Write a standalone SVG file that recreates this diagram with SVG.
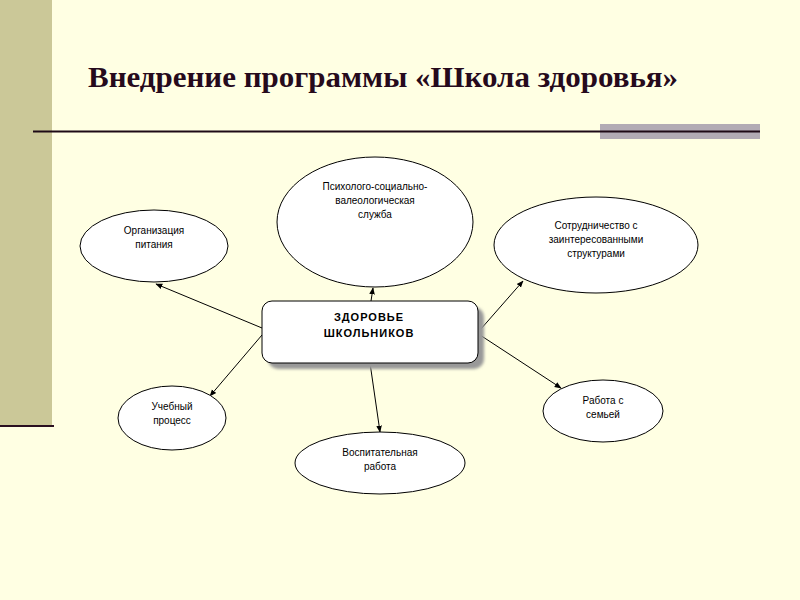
<svg xmlns="http://www.w3.org/2000/svg" width="800" height="600" viewBox="0 0 800 600">
<defs>
<marker id="ah" viewBox="0 0 10 10" refX="9" refY="5" markerWidth="7" markerHeight="7" orient="auto" markerUnits="userSpaceOnUse">
<path d="M0,1 L10,5 L0,9 z" fill="#000"/>
</marker>
<filter id="sh" x="-10%" y="-10%" width="130%" height="140%">
<feGaussianBlur stdDeviation="1.5"/>
</filter>
</defs>
<style>
.el{fill:#fff;stroke:#000;stroke-width:1}
.t{font-family:"Liberation Sans",Arial,sans-serif;font-size:10px;fill:#000;text-anchor:middle}
.tb{font-family:"Liberation Sans",Arial,sans-serif;font-size:11px;font-weight:bold;fill:#000;text-anchor:middle;letter-spacing:1px}
.c line{stroke:#000;stroke-width:1;marker-end:url(#ah)}
</style>
<rect width="800" height="600" fill="#FFFFE3"/>
<rect x="0" y="0" width="52" height="425" fill="#CBC898"/>
<line x1="0" y1="426" x2="54" y2="426" stroke="#2a1020" stroke-width="2"/>
<rect x="600" y="124" width="160" height="15" fill="#B2ABB4"/>
<line x1="33" y1="131.500" x2="760" y2="131.500" stroke="#1e0a16" stroke-width="2"/>
<text x="88" y="87" font-family="Liberation Serif,'Times New Roman',serif" font-size="30" font-weight="bold" fill="#260a1c" textLength="590" lengthAdjust="spacingAndGlyphs">Внедрение программы «Школа здоровья»</text>

<g class="c">
<line x1="371" y1="301" x2="373" y2="288"/>
<line x1="262" y1="328" x2="156" y2="284"/>
<line x1="262" y1="335" x2="210" y2="396"/>
<line x1="370" y1="363" x2="380" y2="432"/>
<line x1="480" y1="330" x2="523" y2="281"/>
<line x1="480" y1="335" x2="561" y2="388"/>
</g>

<g id="center">
<rect x="268" y="307" width="216" height="62" rx="10" fill="#999" filter="url(#sh)"/>
<rect x="262" y="301" width="216" height="62" rx="10" class="el"/>
<text x="369" y="321" class="tb">ЗДОРОВЬЕ</text>
<text x="369" y="337" class="tb">ШКОЛЬНИКОВ</text>
</g>
<g id="psych">
<ellipse cx="375" cy="222" rx="98" ry="65" class="el"/>
<text x="375" y="190" class="t">Психолого-социально-</text>
<text x="375" y="204" class="t">валеологическая</text>
<text x="375" y="218" class="t">служба</text>
</g>
<g id="food">
<ellipse cx="154" cy="246" rx="74" ry="36" class="el"/>
<text x="154" y="234" class="t">Организация</text>
<text x="154" y="248" class="t">питания</text>
</g>
<g id="coop">
<ellipse cx="596" cy="245" rx="102" ry="48" class="el"/>
<text x="596" y="229" class="t">Сотрудничество с</text>
<text x="596" y="243" class="t">заинтересованными</text>
<text x="596" y="257" class="t">структурами</text>
</g>
<g id="study">
<ellipse cx="172" cy="418" rx="54" ry="32" class="el"/>
<text x="172" y="410" class="t">Учебный</text>
<text x="172" y="424" class="t">процесс</text>
</g>
<g id="edu">
<ellipse cx="380" cy="463" rx="85" ry="31" class="el"/>
<text x="380" y="456" class="t">Воспитательная</text>
<text x="380" y="470" class="t">работа</text>
</g>
<g id="family">
<ellipse cx="603" cy="411" rx="60" ry="31" class="el"/>
<text x="603" y="404" class="t">Работа с</text>
<text x="603" y="418" class="t">семьей</text>
</g>
</svg>
